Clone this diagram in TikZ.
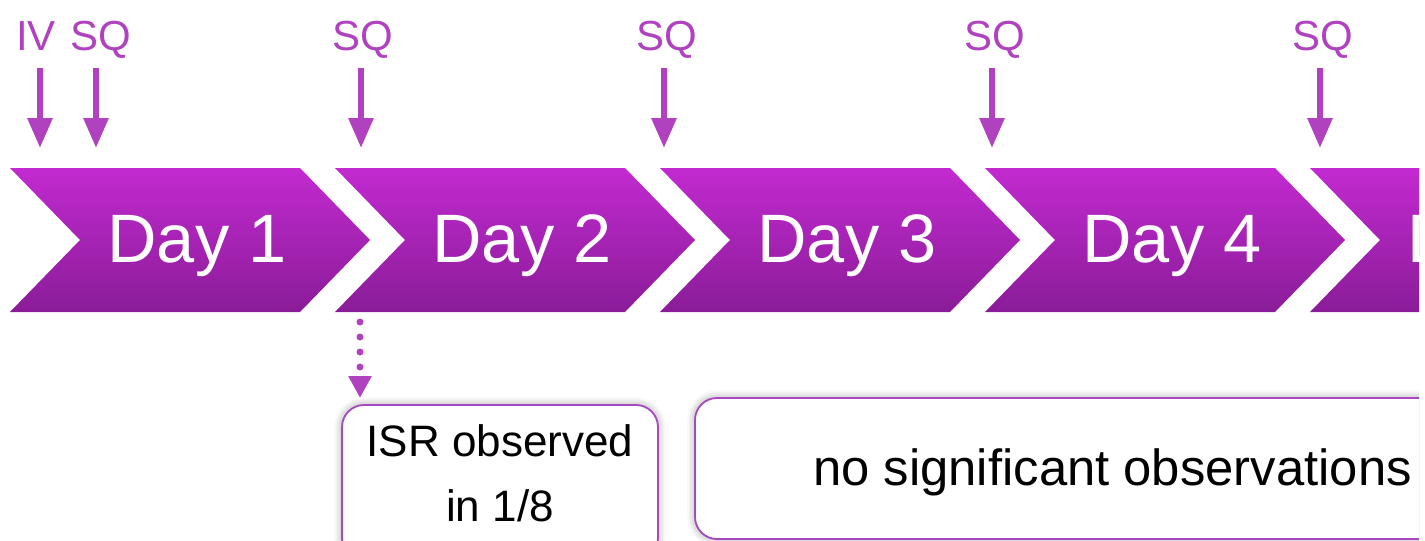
\documentclass[tikz,border=0pt]{standalone}
\usepackage{fontspec}
\setmainfont{Liberation Sans}
\usetikzlibrary{arrows.meta,shadows.blur}
\definecolor{chevtop}{RGB}{194,42,208}
\definecolor{chevbot}{RGB}{138,28,152}
\definecolor{arrpurple}{RGB}{176,66,192}
\definecolor{boxline}{RGB}{168,72,190}
\tikzset{
  chevron/.style={top color=chevtop,bottom color=chevbot,draw=none},
  daytext/.style={text=white,font=\fontsize{68.5}{68.5}\selectfont,anchor=base,inner sep=0pt},
  dose/.style={text=arrpurple,font=\fontsize{42}{42}\selectfont,anchor=base,inner sep=0pt},
  dosearrow/.style={draw=arrpurple,line width=6pt,-{Triangle[width=24pt,length=30pt]}},
  dotarrow/.style={draw=arrpurple,line width=7pt,line cap=round,dash pattern=on 0pt off 15pt,-{Triangle[width=22pt,length=22pt,line cap=butt]}},
  obsbox/.style={draw=boxline,line width=1.8pt,rounded corners=22pt,fill=white,
    blur shadow={shadow xshift=0pt,shadow yshift=0pt,shadow blur radius=8pt,shadow opacity=40}},
  obstext/.style={text=black,anchor=base,inner sep=0pt}
}
\begin{document}
\begin{tikzpicture}[x=1pt,y=-1pt]
\useasboundingbox (0,0) rectangle (1425,541);
\clip (0,0) rectangle (1419,541);
% chevrons
\foreach \i in {1,...,5}{
  \pgfmathsetmacro{\L}{10+325*(\i-1)}
  \path[chevron] (\L,168) -- (\L+290,168) -- (\L+360,240) -- (\L+290,312) -- (\L,312) -- (\L+70,240) -- cycle;
}
\node[daytext] (day1) at (197,262) {Day 1};
\node[daytext] (day2) at (522,262) {Day 2};
\node[daytext] (day3) at (847,262) {Day 3};
\node[daytext] (day4) at (1172,262) {Day 4};
\node[daytext] (day5) at (1497,262) {Day 5};
% dose labels
\node[dose] (iv) at (36,50) {IV};
\node[dose] (sq1) at (101,50) {SQ};
\node[dose] (sq2) at (363,50) {SQ};
\node[dose] (sq3) at (667,50) {SQ};
\node[dose] (sq4) at (995,50) {SQ};
\node[dose] (sq5) at (1323,50) {SQ};
% arrow endpoints
\coordinate (ivs) at (40,68);   \coordinate (ive) at (40,148);
\coordinate (s1s) at (96,68);   \coordinate (s1e) at (96,148);
\coordinate (s2s) at (361,68);  \coordinate (s2e) at (361,148);
\coordinate (s3s) at (664,68);  \coordinate (s3e) at (664,148);
\coordinate (s4s) at (992,68);  \coordinate (s4e) at (992,148);
\coordinate (s5s) at (1320,68); \coordinate (s5e) at (1320,148);
\draw[dosearrow] (ivs) -- (ive);
\draw[dosearrow] (s1s) -- (s1e);
\draw[dosearrow] (s2s) -- (s2e);
\draw[dosearrow] (s3s) -- (s3e);
\draw[dosearrow] (s4s) -- (s4e);
\draw[dosearrow] (s5s) -- (s5e);
% boxes
\draw[obsbox] (342,405) rectangle (658,560);
\draw[obsbox] (695,398) rectangle (1460,539);
\node[obstext,font=\fontsize{44}{65}\selectfont,align=center,anchor=north] (isr) at (500,424) {ISR observed\\in 1/8};
\node[obstext,font=\fontsize{50.8}{50.8}\selectfont,anchor=base west] (nso) at (813,485) {no significant observations};
% dotted arrow
\coordinate (dots) at (360,322);
\coordinate (dote) at (360,398);
\draw[dotarrow] (dots) -- (dote);
\end{tikzpicture}
\end{document}
